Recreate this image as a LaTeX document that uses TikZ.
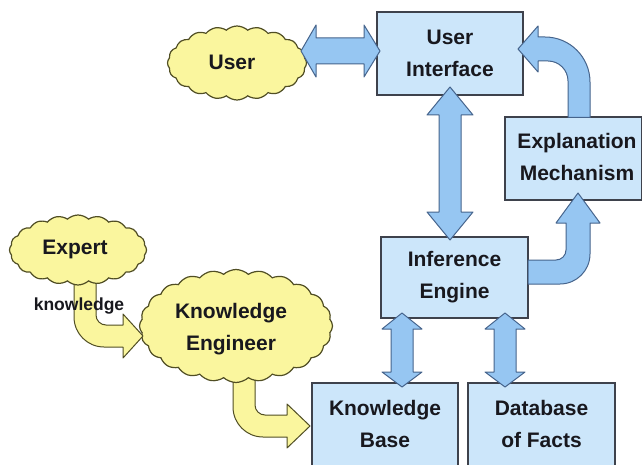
\documentclass[tikz,border=0pt]{standalone}
\usepackage{fontspec}
\setmainfont{Liberation Sans}
\usetikzlibrary{shapes.symbols}
\definecolor{boxfill}{RGB}{204,230,250}
\definecolor{boxline}{RGB}{62,66,76}
\definecolor{arrfill}{RGB}{150,198,242}
\definecolor{arrline}{RGB}{70,100,140}
\definecolor{cloudfill}{RGB}{250,246,158}
\definecolor{cloudline}{RGB}{80,78,36}
\definecolor{txt}{RGB}{24,24,30}
\begin{document}
\begin{tikzpicture}[x=1pt,y=-1pt,
  box/.style={draw=boxline, fill=boxfill, line width=1.4pt, inner sep=0pt, align=center, text=txt,
    font=\fontsize{21}{32}\selectfont\bfseries},
  cloudnode/.style={cloud, cloud puffs=20, cloud puff arc=85, cloud ignores aspect,
    draw=cloudline, fill=cloudfill, line width=1.2pt, inner sep=0pt},
  lbl/.style={align=center, text=txt, font=\fontsize{21}{32}\selectfont\bfseries, inner sep=0pt},
  smalllbl/.style={text=txt, font=\fontsize{17.5}{20}\selectfont\bfseries, inner sep=0pt},
  barrow/.style={draw=arrline, fill=arrfill, line width=1pt, line join=round},
  yarrow/.style={draw=cloudline, fill=cloudfill, line width=1pt, line join=round}]
\fill[white] (0,0) rectangle (642,465);
\useasboundingbox (0,0) rectangle (642,465);

% user cloud
\node[cloudnode, minimum width=139pt, minimum height=74pt] (usercloud) at (237,63) {};

% boxes
\node[box, minimum width=146pt, minimum height=83pt] (ui) at (450,53.5) {User\\Interface};
\node[box, minimum width=136.5pt, minimum height=83pt] (expl) at (573.25,158.5) {};
\node[lbl] (explt) at (577,157) {Explanation\\Mechanism};
\node[box, minimum width=147pt, minimum height=81pt] (ie) at (454.5,277.5) {Inference\\Engine};
\node[box, minimum width=146pt, minimum height=92pt] (kb) at (385,429) {};
\node[lbl] (kbt) at (385,423.5) {Knowledge\\Base};
\node[box, minimum width=147pt, minimum height=92pt] (db) at (541.5,429) {};
\node[lbl] (dbt) at (541.5,423.5) {Database\\of Facts};

% blue block arrows
\draw[barrow] (301,51) -- (316,25) -- (316,38) -- (364,38) -- (364,25) -- (380,51)
  -- (364,77) -- (364,64) -- (316,64) -- (316,77) -- cycle;
\draw[barrow] (450,87) -- (473,115) -- (461,115) -- (461,212) -- (473,212) -- (450,240)
  -- (427,212) -- (439,212) -- (439,115) -- (427,115) -- cycle;
\draw[barrow] (402,313) -- (422,329) -- (413,329) -- (413,372) -- (422,372) -- (402,387)
  -- (382,372) -- (391,372) -- (391,329) -- (382,329) -- cycle;
\draw[barrow] (505,313) -- (525,329) -- (516,329) -- (516,372) -- (525,372) -- (505,387)
  -- (485,372) -- (494,372) -- (494,329) -- (485,329) -- cycle;
% inference engine -> explanation
\draw[barrow] (528,260) -- (556,260) .. controls (561.52,260) and (566,255.52) .. (566,250)
  -- (566,223) -- (556,223) -- (578,193) -- (600,223) -- (590,223) -- (590,254)
  .. controls (590,270.57) and (576.57,284) .. (560,284) -- (528,284) -- cycle;
% explanation -> user interface
\draw[barrow] (568,117.5) -- (568,81) .. controls (568,69.95) and (559.05,61) .. (548,61)
  -- (538,61) -- (538,72) -- (518,49) -- (538,26) -- (538,37) -- (545,37)
  .. controls (569.85,37) and (590,57.15) .. (590,82) -- (590,117.5) -- cycle;

% knowledge engineer -> knowledge base
\draw[yarrow] (233,372) -- (233,407) .. controls (233,423.57) and (246.43,437) .. (263,437)
  -- (287,437) -- (287,448) -- (310,426) -- (287,404) -- (287,415) -- (265,415)
  .. controls (259.48,415) and (255,410.52) .. (255,405) -- (255,372) -- cycle;

% knowledge engineer cloud
\node[cloudnode, cloud puffs=24, minimum width=193pt, minimum height=113pt] (kecloud) at (236,326) {};
\node[lbl] (ket) at (231,329) {Knowledge\\Engineer};

% expert -> knowledge engineer
\draw[yarrow] (74,272) -- (74,317) .. controls (74,333.57) and (87.43,347) .. (104,347)
  -- (123,347) -- (123,358) -- (143,336) -- (123,314) -- (123,325) -- (106,325)
  .. controls (100.48,325) and (96,320.52) .. (96,315) -- (96,272) -- cycle;

% expert cloud
\node[cloudnode, minimum width=137pt, minimum height=70pt] (expertcloud) at (78,250) {};
\node[lbl] (expertt) at (75,249) {Expert};
\node[lbl] (usert) at (232,62) {User};
\node[smalllbl] (know) at (79,306) {knowledge};
\end{tikzpicture}
\end{document}
